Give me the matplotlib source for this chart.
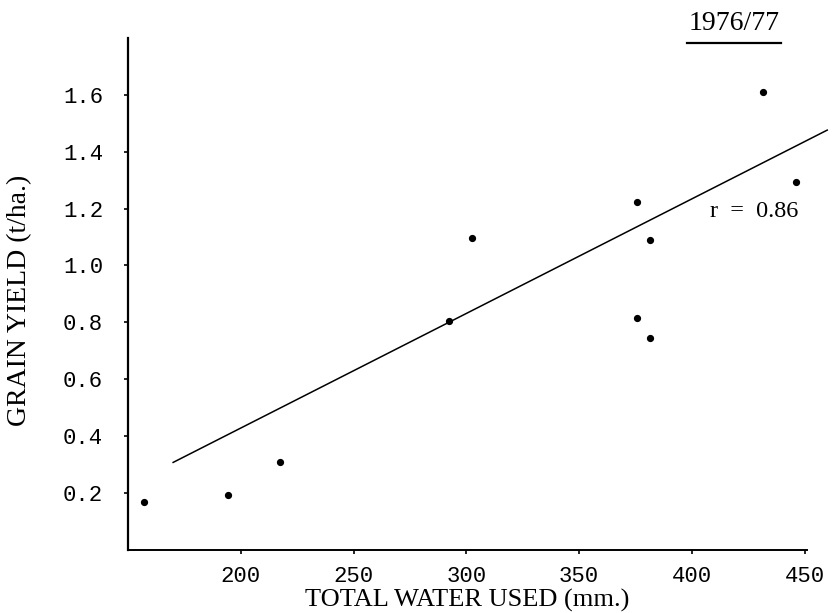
import numpy as np
import matplotlib
matplotlib.use("Agg")
import matplotlib.pyplot as plt
from matplotlib.lines import Line2D

# values
water_used = [157, 194.5, 217.5, 292.5, 302.5, 375.5, 375.5, 381.5, 381.5, 431.5, 446]
grain_yield = [0.166, 0.192, 0.307, 0.804, 1.098, 1.222, 0.816, 1.091, 0.743, 1.610, 1.293]

# regression line as drawn (end points)
fit_x = [170, 460]
fit_y = [0.307, 1.476]

x_ticks = [200, 250, 300, 350, 400, 450]
y_ticks = [0.2, 0.4, 0.6, 0.8, 1.0, 1.2, 1.4, 1.6]

serif = "Liberation Serif"
mono = "Liberation Mono"

fig = plt.figure(figsize=(8.33, 6.13), dpi=100)
ax = fig.add_axes([0.1537, 0.1033, 0.815, 0.8347])

ax.plot(water_used, grain_yield, "o", color="black", markersize=4.2, clip_on=False)
ax.plot(fit_x, fit_y, "-", color="black", lw=1.1, clip_on=False)

ax.set_xlim(150, 451)
ax.set_ylim(0, 1.8)

ax.spines["top"].set_visible(False)
ax.spines["right"].set_visible(False)
ax.spines["left"].set_linewidth(1.6)
ax.spines["bottom"].set_linewidth(1.4)

ax.set_xticks(x_ticks)
ax.set_yticks(y_ticks)
ax.set_xticklabels([str(v) for v in x_ticks], fontfamily=mono, fontsize=16)
ax.set_yticklabels(["%.1f" % v for v in y_ticks], fontfamily=mono, fontsize=16)
ax.tick_params(axis="x", direction="out", length=3, width=1.2, pad=9)
ax.tick_params(axis="y", direction="out", length=3, width=1.2, pad=15)

ax.set_xlabel("TOTAL WATER USED (mm.)", fontfamily=serif, fontsize=19, va="center")
ax.set_ylabel("GRAIN YIELD (t/ha.)", fontfamily=serif, fontsize=20, va="center")
ax.xaxis.set_label_coords(0.5, -0.100)
ax.yaxis.set_label_coords(-0.159, 0.488)

ax.text(427.5, 1.19, "r  =  0.86", fontfamily=serif, fontsize=17.5, ha="center", va="center")

# title with underline, top right
fig.text(734 / 833, 1 - 23 / 613, "1976/77", fontfamily=serif, fontsize=20, ha="center", va="center")
fig.add_artist(Line2D([687 / 833, 781 / 833], [1 - 43 / 613, 1 - 43 / 613], color="black", lw=1.6))

fig.savefig("out.png", dpi=100)
